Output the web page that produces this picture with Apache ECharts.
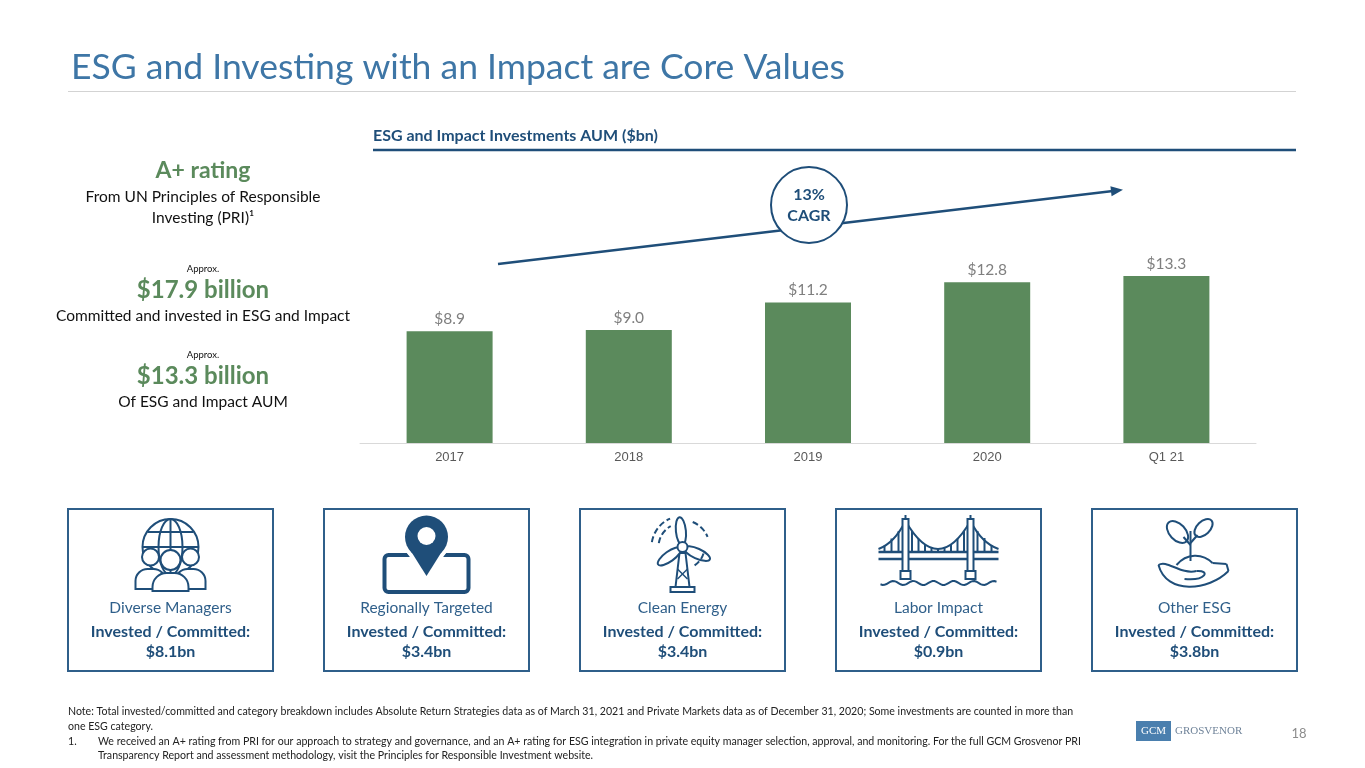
<!DOCTYPE html>
<html>
<head>
<meta charset="utf-8">
<title>ESG and Investing with an Impact are Core Values</title>
<script src="https://cdn.jsdelivr.net/npm/echarts@6/dist/echarts.min.js"></script>
<style>
html,body{margin:0;padding:0;background:#fff;}
#main{width:1365px;height:768px;}
</style>
</head>
<body>
<div id="main"></div>
<script>
// chart data
const years = ['2017', '2018', '2019', '2020', 'Q1 21'];
const aum = [8.9, 9.0, 11.2, 12.8, 13.3];
const cagrText = ['13%', 'CAGR'];

// category boxes
const boxNames = ['Diverse Managers', 'Regionally Targeted', 'Clean Energy', 'Labor Impact', 'Other ESG'];
const boxAmounts = ['$8.1bn', '$3.4bn', '$3.4bn', '$0.9bn', '$3.8bn'];

const FONT = 'Lato, "Open Sans", sans-serif';
const NAVY = '#1f4e79';
const BOXBLUE = '#2f5f8a';
const GREEN = '#5b8a5c';

const mainEl = document.getElementById('main');
const chart = echarts.init(mainEl);

function txt(x, y, text, font, color, align) {
    return {
        type: 'text', x: x, y: y, silent: true,
        style: { text: text, font: font, fill: color, textAlign: align || 'left', textVerticalAlign: 'middle' }
    };
}
function ln(x1, y1, x2, y2, color, w, dash) {
    return { type: 'line', silent: true, shape: { x1, y1, x2, y2 },
        style: { stroke: color, lineWidth: w, lineDash: dash || null } };
}
const st = (fill) => ({ stroke: NAVY, lineWidth: 2, fill: fill || 'none' });

// ---- icons, local coords, (0,0) = top centre of icon
function iconPeople() {
    const c = [];
    c.push({ type: 'circle', shape: { cx: 0, cy: 32, r: 28 }, style: st() });
    c.push({ type: 'ellipse', shape: { cx: 0, cy: 32, rx: 12, ry: 28 }, style: st() });
    c.push({ type: 'line', shape: { x1: 0, y1: 4, x2: 0, y2: 60 }, style: st() });
    c.push({ type: 'line', shape: { x1: -23, y1: 17, x2: 23, y2: 17 }, style: st() });
    c.push({ type: 'line', shape: { x1: -28, y1: 32, x2: 28, y2: 32 }, style: st() });
    [-20, 20].forEach(function (dx) {
        c.push({ type: 'rect', shape: { x: dx - 15, y: 54, width: 30, height: 20, r: [12, 12, 0, 0] }, style: st('#fff') });
        c.push({ type: 'circle', shape: { cx: dx, cy: 42, r: 8.5 }, style: st('#fff') });
    });
    c.push({ type: 'rect', shape: { x: -18, y: 58, width: 36, height: 18, r: [14, 14, 0, 0] }, style: st('#fff') });
    c.push({ type: 'circle', shape: { cx: 0, cy: 45, r: 10 }, style: st('#fff') });
    return c;
}
function iconPin() {
    const c = [];
    c.push({ type: 'rect', shape: { x: -42, y: 40, width: 84, height: 37, r: 4 }, style: { stroke: NAVY, lineWidth: 4, fill: 'none' } });
    const tri = [[-19.5, 30], [19.5, 30], [0, 61]];
    c.push({ type: 'circle', shape: { cx: 0, cy: 22, r: 21.5 }, style: { fill: '#fff', stroke: '#fff', lineWidth: 8 } });
    c.push({ type: 'polygon', shape: { points: tri }, style: { fill: '#fff', stroke: '#fff', lineWidth: 8 } });
    c.push({ type: 'circle', shape: { cx: 0, cy: 22, r: 21.5 }, style: { fill: NAVY } });
    c.push({ type: 'polygon', shape: { points: tri }, style: { fill: NAVY } });
    c.push({ type: 'circle', shape: { cx: 0, cy: 21, r: 9 }, style: { fill: '#fff' } });
    return c;
}
function iconTurbine() {
    const c = [];
    const hy = 32;
    c.push({ type: 'polygon', shape: { points: [[-3, hy + 6], [3, hy + 6], [7, 72], [-7, 72]] }, style: st() });
    c.push(ln(-5, 54, 5, 64, NAVY, 1.5));
    c.push(ln(5, 54, -5, 64, NAVY, 1.5));
    c.push({ type: 'rect', shape: { x: -12, y: 72, width: 24, height: 5 }, style: st() });
    [0.1, 0.1 + 2.094, 0.1 + 4.189].forEach(function (rot) {
        c.push({ type: 'group', x: 0, y: hy, rotation: rot, children: [
            { type: 'ellipse', shape: { cx: 0, cy: -16, rx: 5, ry: 14 }, style: st('#fff') }
        ] });
    });
    c.push({ type: 'circle', shape: { cx: 0, cy: hy, r: 5 }, style: st('#fff') });
    const arcs = [[24, 3.3, 4.2], [31, 3.3, 4.3], [27, 5.1, 5.9], [22, 0.3, 1.1]];
    arcs.forEach(function (a) {
        c.push({ type: 'arc', shape: { cx: 0, cy: hy, r: a[0], startAngle: a[1], endAngle: a[2], clockwise: true },
            style: { stroke: NAVY, lineWidth: 2, fill: 'none', lineDash: [6, 3] } });
    });
    return c;
}
function iconBridge() {
    const c = [];
    const towers = [-33, 32];
    const cable = (t) => ({ x: -33 + 65 * t, y: 6 * (1 - t) * (1 - t) + 2 * 62 * t * (1 - t) + 6 * t * t });
    c.push({ type: 'bezierCurve', shape: { x1: -33, y1: 6, x2: 32, y2: 6, cpx1: -0.5, cpy1: 62 }, style: st() });
    c.push({ type: 'bezierCurve', shape: { x1: -33, y1: 6, x2: -60, y2: 34, cpx1: -44, cpy1: 28 }, style: st() });
    c.push({ type: 'bezierCurve', shape: { x1: 32, y1: 6, x2: 60, y2: 34, cpx1: 43, cpy1: 28 }, style: st() });
    for (let i = 1; i < 10; i++) {
        const p = cable(i / 10);
        if (p.y < 37) c.push(ln(p.x, p.y, p.x, 37, NAVY, 2));
    }
    [-54, -47, -40].forEach(function (x) { c.push(ln(x, 6 + (x + 33) / -27 * 28 + 3, x, 37, NAVY, 2)); });
    [39, 46, 53].forEach(function (x) { c.push(ln(x, 6 + (x - 32) / 28 * 28 + 3, x, 37, NAVY, 2)); });
    c.push(ln(-60, 37, 60, 37, NAVY, 2.5));
    c.push(ln(-60, 44, 60, 44, NAVY, 2.5));
    towers.forEach(function (x) {
        c.push({ type: 'rect', shape: { x: x - 3, y: 4, width: 6, height: 52 }, style: st('#fff') });
        c.push(ln(x, 0, x, 4, NAVY, 2));
        c.push({ type: 'rect', shape: { x: x - 5, y: 56, width: 10, height: 8 }, style: st('#fff') });
    });
    const wave = [];
    for (let x = -58; x <= 58; x += 2) wave.push([x, 68 + 2 * Math.sin(x / 3.2)]);
    c.push({ type: 'polyline', shape: { points: wave }, style: st() });
    return c;
}
function iconPlant() {
    const c = [];
    c.push(ln(-4, 46, -4, 16, NAVY, 2));
    c.push(ln(-4, 30, -11, 22, NAVY, 2));
    c.push(ln(-4, 28, 3, 20, NAVY, 2));
    c.push({ type: 'group', x: -17, y: 17, rotation: 0.75, children: [
        { type: 'ellipse', shape: { cx: 0, cy: 0, rx: 8, ry: 13 }, style: st() }
    ] });
    c.push({ type: 'group', x: 9, y: 13, rotation: -0.8, children: [
        { type: 'ellipse', shape: { cx: 0, cy: 0, rx: 6.5, ry: 11 }, style: st() }
    ] });
    // soil mound
    c.push({ type: 'bezierCurve', shape: { x1: -18, y1: 50, x2: 18, y2: 48, cpx1: -8, cpy1: 38, cpx2: 8, cpy2: 38 }, style: st() });
    // hand
    c.push({ type: 'bezierCurve', shape: { x1: -36, y1: 50, x2: 34, y2: 56, cpx1: -28, cpy1: 80, cpx2: 14, cpy2: 76 }, style: st() });
    c.push({ type: 'bezierCurve', shape: { x1: -36, y1: 50, x2: 2, y2: 56, cpx1: -28, cpy1: 44, cpx2: -14, cpy2: 60 }, style: st() });
    c.push({ type: 'bezierCurve', shape: { x1: 2, y1: 56, x2: -10, y2: 64, cpx1: 16, cpy1: 55, cpx2: 12, cpy2: 66 }, style: st() });
    c.push(ln(18, 48, 32, 49, NAVY, 2));
    c.push(ln(32, 49, 34, 56, NAVY, 2));
    return c;
}
const icons = [iconPeople, iconPin, iconTurbine, iconBridge, iconPlant];

// ---- static slide furniture
const graphics = [];
graphics.push(txt(71, 68, 'ESG and Investing with an Impact are Core Values', '35.5px ' + FONT, '#3e76a6'));
graphics.push(ln(68, 91.5, 1296, 91.5, '#d3d3d3', 1));

graphics.push(txt(373, 136, 'ESG and Impact Investments AUM ($bn)', 'bold 16px ' + FONT, NAVY));
graphics.push(ln(373, 150, 1296, 150, NAVY, 2.5));

// left panel
const lx = 203;
graphics.push(txt(lx, 171, 'A+ rating', 'bold 23px ' + FONT, GREEN, 'center'));
graphics.push(txt(lx, 197, 'From UN Principles of Responsible', '15.5px ' + FONT, '#111', 'center'));
graphics.push(txt(lx, 218, 'Investing (PRI)¹', '15.5px ' + FONT, '#111', 'center'));
graphics.push(txt(lx, 269, 'Approx.', '9.5px ' + FONT, '#111', 'center'));
graphics.push(txt(lx, 290, '$17.9 billion', 'bold 24px ' + FONT, GREEN, 'center'));
graphics.push(txt(lx, 316, 'Committed and invested in ESG and Impact', '15.5px ' + FONT, '#111', 'center'));
graphics.push(txt(lx, 355, 'Approx.', '9.5px ' + FONT, '#111', 'center'));
graphics.push(txt(lx, 376, '$13.3 billion', 'bold 24px ' + FONT, GREEN, 'center'));
graphics.push(txt(lx, 402, 'Of ESG and Impact AUM', '15.5px ' + FONT, '#111', 'center'));

// CAGR arrow
graphics.push(ln(498, 264, 1113, 191, NAVY, 2.5));
graphics.push({ type: 'polygon', silent: true,
    shape: { points: [[1123, 189.8], [1111.6, 196.2], [1110.4, 186.2]] }, style: { fill: NAVY } });
graphics.push({ type: 'circle', silent: true, shape: { cx: 809, cy: 205, r: 38 },
    style: { fill: '#fff', stroke: NAVY, lineWidth: 2 } });
graphics.push(txt(809, 195, cagrText[0], 'bold 16px ' + FONT, NAVY, 'center'));
graphics.push(txt(809, 216, cagrText[1], 'bold 16px ' + FONT, NAVY, 'center'));

// category boxes
boxNames.forEach(function (name, i) {
    const bx = 68 + i * 256;
    const cx = bx + 102.5;
    graphics.push({ type: 'rect', silent: true, shape: { x: bx, y: 509, width: 205, height: 162 },
        style: { fill: 'none', stroke: BOXBLUE, lineWidth: 2 } });
    graphics.push({ type: 'group', x: cx, y: 515, silent: true, children: icons[i]() });
    graphics.push(txt(cx, 608, name, '15.5px ' + FONT, BOXBLUE, 'center'));
    graphics.push(txt(cx, 632, 'Invested / Committed:', 'bold 16px ' + FONT, NAVY, 'center'));
    graphics.push(txt(cx, 652, boxAmounts[i], 'bold 16px ' + FONT, NAVY, 'center'));
});

// footnotes
const fnFont = '10.6px ' + FONT;
graphics.push(txt(68, 712, 'Note: Total invested/committed and category breakdown includes Absolute Return Strategies data as of March 31, 2021 and Private Markets data as of December 31, 2020; Some investments are counted in more than', fnFont, '#222'));
graphics.push(txt(68, 727, 'one ESG category.', fnFont, '#222'));
graphics.push(txt(68, 742, '1.', fnFont, '#222'));
graphics.push(txt(98, 742, 'We received an A+ rating from PRI for our approach to strategy and governance, and an A+ rating for ESG integration in private equity manager selection, approval, and monitoring. For the full GCM Grosvenor PRI', fnFont, '#222'));
graphics.push(txt(98, 756, 'Transparency Report and assessment methodology, visit the Principles for Responsible Investment website.', fnFont, '#222'));

// logo + page number
graphics.push({ type: 'rect', silent: true, shape: { x: 1136, y: 721, width: 35, height: 20 }, style: { fill: '#4a7fae' } });
graphics.push(txt(1153.5, 731, 'GCM', '11px "Liberation Serif", serif', '#fff', 'center'));
graphics.push(txt(1175, 731, 'GROSVENOR', '11px "Liberation Serif", serif', '#6f8399'));
graphics.push(txt(1299, 734, '18', '13px ' + FONT, '#8c8c8c', 'center'));

const option = {
    backgroundColor: '#fff',
    animation: false,
    grid: { left: 360, right: 109, top: 192, bottom: 325 },
    xAxis: {
        type: 'category',
        data: years,
        axisLine: { lineStyle: { color: '#d9d9d9', width: 1 } },
        axisTick: { show: false },
        axisLabel: { color: '#595959', fontSize: 13, fontFamily: '"Liberation Sans", Arial, sans-serif', margin: 8 }
    },
    yAxis: { type: 'value', min: 0, max: 20, show: false, splitLine: { show: false } },
    series: [{
        type: 'bar',
        data: aum,
        barWidth: 86,
        itemStyle: { color: GREEN },
        label: {
            show: true, position: 'top', distance: 4,
            color: '#7f7f7f', fontSize: 15.5, fontFamily: FONT,
            formatter: (p) => '$' + p.value.toFixed(1)
        }
    }],
    graphic: { elements: graphics }
};

chart.setOption(option);
</script>
</body>
</html>
